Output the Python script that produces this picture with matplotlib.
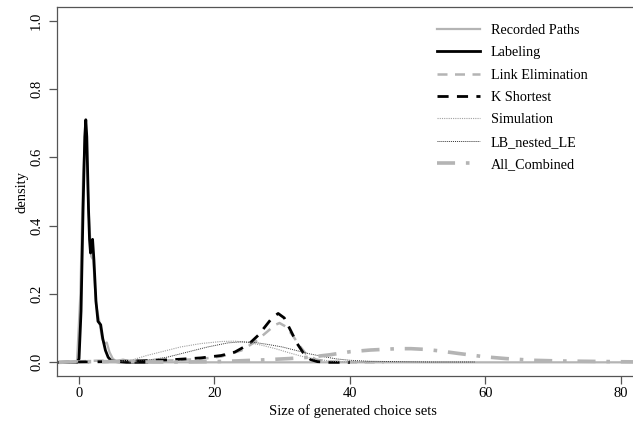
import matplotlib
matplotlib.use('Agg')
import matplotlib.pyplot as plt

# density curves
rec_x = [-3.2, -0.3, 0.2, 0.6, 1.0, 1.4, 1.8, 2.1, 2.5, 3.0, 3.4, 3.7, 4.1, 4.5, 5.0, 5.5, 6.5, 7.5, 8.5, 9.5, 11, 84]
rec_y = [0, 0, 0.2, 0.55, 0.69, 0.45, 0.31, 0.30, 0.17, 0.12, 0.07, 0.055, 0.058, 0.03, 0.01, 0.004, 0.008, 0.003, 0.006, 0.002, 0, 0]

lab_x = [-3.2, -0.3, 0.0, 0.3, 0.6, 0.85, 1.0, 1.15, 1.4, 1.55, 1.7, 1.85, 2.0, 2.2, 2.5, 2.8, 3.2, 3.5, 3.9, 4.3, 4.7, 5.5, 7, 10]
lab_y = [0, 0, 0.01, 0.15, 0.45, 0.66, 0.71, 0.66, 0.45, 0.36, 0.32, 0.35, 0.36, 0.30, 0.18, 0.12, 0.11, 0.07, 0.035, 0.015, 0.006, 0.002, 0, 0]

le_x = [-3, 0, 3, 6, 10, 14, 18, 21, 24, 26, 27.5, 29, 29.6, 30.5, 31.5, 32.5, 33.5, 35, 37, 40, 45]
le_y = [0, 0.003, 0.005, 0.004, 0.004, 0.006, 0.01, 0.017, 0.035, 0.06, 0.085, 0.11, 0.115, 0.105, 0.08, 0.05, 0.025, 0.008, 0.002, 0, 0]

ks_x = [-3, 0, 5, 10, 14, 18, 21, 23, 25, 26.5, 27.5, 28.5, 29.4, 30.3, 31.2, 32.2, 33.2, 34.2, 35.2, 37, 40]
ks_y = [0, 0.001, 0.002, 0.005, 0.008, 0.013, 0.02, 0.03, 0.052, 0.08, 0.105, 0.13, 0.143, 0.13, 0.095, 0.055, 0.025, 0.008, 0.002, 0, 0]

sim_x = [4, 6, 8, 10, 12, 15, 18, 21, 23, 25, 27, 29, 31, 33, 35, 37, 40, 43]
sim_y = [0, 0.003, 0.008, 0.02, 0.03, 0.045, 0.055, 0.061, 0.062, 0.058, 0.05, 0.04, 0.028, 0.017, 0.009, 0.004, 0.001, 0]

lbn_x = [4, 7, 10, 13, 16, 19, 22, 24, 26, 28, 30, 32, 34, 36, 38, 40, 43, 47, 52, 58.5]
lbn_y = [0, 0.002, 0.006, 0.015, 0.03, 0.045, 0.057, 0.06, 0.058, 0.052, 0.045, 0.035, 0.025, 0.017, 0.01, 0.006, 0.003, 0.002, 0.001, 0.001]

all_x = [-3, 0, 5, 10, 15, 20, 23, 27, 31, 34, 37, 40, 43, 45, 47, 49, 51, 53, 56, 58, 60, 63, 67, 71, 75, 79, 84]
all_y = [0, 0.002, 0.002, 0.001, 0.001, 0.002, 0.004, 0.007, 0.011, 0.015, 0.022, 0.031, 0.036, 0.038, 0.04, 0.04, 0.038, 0.034, 0.026, 0.021, 0.016, 0.011, 0.006, 0.004, 0.003, 0.002, 0.001]

x_ticks = [0, 20, 40, 60, 80]
y_ticks = [0.0, 0.2, 0.4, 0.6, 0.8, 1.0]

plt.rcParams['font.family'] = ['Liberation Serif', 'DejaVu Serif']

fig = plt.figure(figsize=(6.33, 4.24), dpi=100)
ax = fig.add_axes([57 / 633, 48 / 424, 591 / 633, 369 / 424])

light = '#b4b4b4'
ax.plot(rec_x, rec_y, color=light, lw=1.6, label='Recorded Paths')
ax.plot(lab_x, lab_y, color='black', lw=2.0, label='Labeling')
ax.plot(le_x, le_y, color=light, lw=1.8, ls=(0, (4, 3)), label='Link Elimination')
ax.plot(ks_x, ks_y, color='black', lw=2.0, ls=(0, (4, 3)), label='K Shortest')
ax.plot(sim_x, sim_y, color='#a0a0a0', lw=0.8, ls=(0, (1, 1)), label='Simulation')
ax.plot(lbn_x, lbn_y, color='#333333', lw=0.7, ls=(0, (1, 1)), label='LB_nested_LE')
ax.plot(all_x, all_y, color=light, lw=2.6, ls=(0, (5, 3, 1, 3)), label='All_Combined')

ax.set_xlim(-3.25, 84)
ax.set_ylim(-0.04, 1.04)
ax.set_xticks(x_ticks)
ax.set_xticklabels([str(t) for t in x_ticks])
ax.set_yticks(y_ticks)
ax.set_yticklabels([f'{t:.1f}' for t in y_ticks], rotation=90, va='center')

for s in ax.spines.values():
    s.set_color('#555555')
    s.set_linewidth(0.9)
ax.tick_params(direction='out', length=6, width=0.9, color='#555555', labelsize=10.5)
ax.tick_params(axis='x', pad=2)
ax.tick_params(axis='y', pad=4)

ax.set_xlabel('Size of generated choice sets', fontsize=10.5, labelpad=3)
ax.set_ylabel('density', fontsize=10.5, labelpad=1)

ax.legend(loc='upper left', bbox_to_anchor=(437 / 633, 1 - 24 / 424), bbox_transform=fig.transFigure,
          frameon=False, fontsize=10.2, handlelength=3.0, handletextpad=0.8,
          labelspacing=0.66, borderpad=0, borderaxespad=0)

fig.savefig('out.png', dpi=100)
